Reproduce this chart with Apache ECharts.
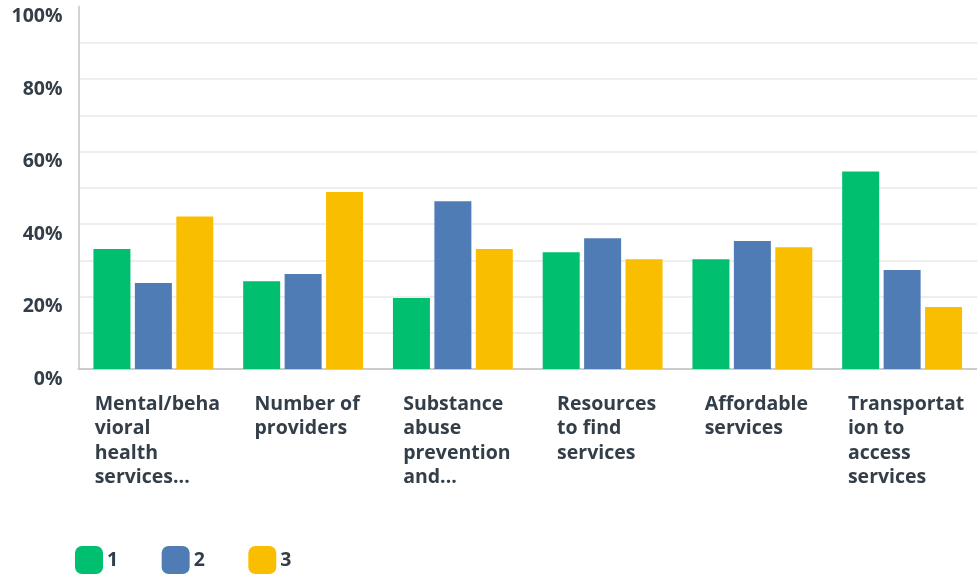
<!DOCTYPE html>
<html>
<head>
<meta charset="utf-8">
<script src="https://cdn.jsdelivr.net/npm/echarts@6/dist/echarts.min.js"></script>
<style>html,body{margin:0;padding:0;background:#fff}#c{width:977px;height:576px}</style>
</head>
<body>
<div id="c"></div>
<script>
var categories = [
  "Mental/beha\nvioral\nhealth\nservices...",
  "Number of\nproviders",
  "Substance\nabuse\nprevention\nand...",
  "Resources\nto find\nservices",
  "Affordable\nservices",
  "Transportat\nion to\naccess\nservices"
];
var seriesNames = ["1", "2", "3"];
var values1 = [33.1, 24.2, 19.6, 32.2, 30.3, 54.5];
var values2 = [23.7, 26.2, 46.3, 36.1, 35.3, 27.3];
var values3 = [42.1, 48.8, 33.1, 30.3, 33.6, 17.1];
var colors = ["#00bf6f", "#507cb6", "#f9be00"];
var yTicks = [0, 20, 40, 60, 80, 100];

var font = "'Open Sans', 'Noto Sans', sans-serif";
var fs = 19.5;
var textColor = "#333e48";
var gridColors = [];
for (var i = 0; i < 10; i++) gridColors.push("#eeeeee");
gridColors.push("rgba(0,0,0,0)");

var chart = echarts.init(document.getElementById('c'), null, {renderer: 'canvas'});
var data = [values1, values2, values3];
chart.setOption({
  animation: false,
  color: colors,
  grid: {left: 78.5, width: 903, top: 6.5, bottom: 207, containLabel: false},
  legend: {
    left: 75, top: 546, padding: 0,
    itemWidth: 28, itemHeight: 28, itemGap: 43.5,
    itemStyle: {borderWidth: 0},
    icon: 'roundRect',
    textStyle: {fontFamily: font, fontSize: fs, fontWeight: 700, color: textColor, padding: [0, 0, 0, -1]},
    data: seriesNames
  },
  xAxis: {
    type: 'category',
    data: categories,
    axisLine: {show: true, lineStyle: {color: '#cccccc', width: 2}},
    axisTick: {show: false},
    axisLabel: {
      interval: 0,
      margin: 23,
      padding: [0, 0, 0, 8],
      formatter: function (v) { return '{a|' + v + '}'; },
      rich: {
        a: {
          align: 'left',
          fontFamily: font, fontSize: fs, fontWeight: 700, color: textColor, lineHeight: 24.5
        }
      }
    }
  },
  yAxis: {
    type: 'value',
    min: 0, max: 100, interval: 10,
    axisLine: {show: true, lineStyle: {color: '#d3d3d3', width: 2}},
    axisTick: {show: false},
    splitLine: {show: true, lineStyle: {color: gridColors, width: 2}},
    axisLabel: {
      margin: 16,
      verticalAlign: 'top',
      fontFamily: font, fontSize: fs, fontWeight: 700, color: textColor,
      formatter: function (v) { return yTicks.indexOf(v) >= 0 ? v + '%' : ''; }
    }
  },
  series: seriesNames.map(function (n, i) {
    return {
      name: n, type: 'bar', data: data[i],
      barWidth: 37, barGap: '12%'
    };
  })
});
</script>
</body>
</html>
